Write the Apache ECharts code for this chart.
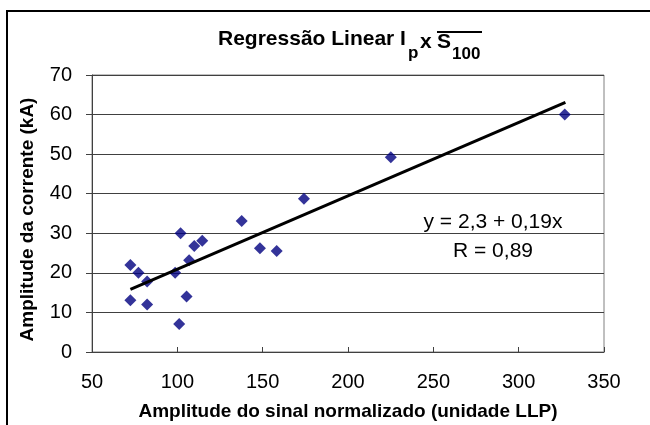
<!DOCTYPE html>
<html>
<head>
<meta charset="utf-8">
<script src="https://cdn.jsdelivr.net/npm/echarts@6/dist/echarts.min.js"></script>
<style>html,body{margin:0;padding:0;background:#fff}#c{width:650px;height:425px}</style>
</head>
<body>
<div id="c"></div>
<script>
// Data
const sinalX = [72.5, 77.2, 82.3, 72.5, 82.3, 98.7, 101.9, 101.1, 105.4, 106.9, 109.9, 114.6, 137.7, 148.4, 158.2, 174.2, 225.1, 327.0];
const correnteY = [22.0, 20.0, 17.8, 13.1, 12.0, 20.0, 30.0, 7.1, 14.0, 23.2, 26.8, 28.1, 33.1, 26.2, 25.5, 38.7, 49.2, 60.0];
// regression line end points as drawn in the reference
const trendX = [72.5, 327.4];
const trendY = [15.8, 63.1];
const xTicks = [50, 100, 150, 200, 250, 300, 350];
const yTicks = [0, 10, 20, 30, 40, 50, 60, 70];
const eqLines = ['y = 2,3 + 0,19x', 'R = 0,89'];
const titleParts = ['Regressão Linear I', 'p', 'x', 'S', '100'];

const FONT = "'Liberation Sans', Arial, sans-serif";
const chart = echarts.init(document.getElementById('c'), null, {renderer: 'canvas'});
function tText(txt, x, y, size) {
  return {type: 'text', x: x, y: y, z: 100,
          style: {text: txt, align: 'left', verticalAlign: 'middle', fontSize: size, fontWeight: 'bold', fontFamily: FONT, fill: '#000'}};
}
chart.setOption({
  animation: false,
  backgroundColor: '#fff',
  textStyle: {fontFamily: FONT},
  grid: {left: 92, top: 75, right: 46, bottom: 73, containLabel: false, outerBoundsMode: 'none',
         show: true, borderColor: '#808080', borderWidth: 1, backgroundColor: '#fff'},
  xAxis: {
    type: 'value', min: xTicks[0], max: xTicks[xTicks.length - 1], interval: 50,
    axisLine: {show: true, lineStyle: {color: '#404040', width: 1}},
    axisTick: {show: true, inside: true, length: 5, lineStyle: {color: '#404040'}},
    axisLabel: {color: '#000', fontSize: 20, fontFamily: FONT, margin: 20},
    splitLine: {show: false},
    name: 'Amplitude do sinal normalizado (unidade LLP)',
    nameLocation: 'middle', nameGap: 50,
    nameTextStyle: {color: '#000', fontSize: 19, fontWeight: 'bold', fontFamily: FONT}
  },
  yAxis: {
    type: 'value', min: yTicks[0], max: yTicks[yTicks.length - 1], interval: 10,
    axisLine: {show: true, lineStyle: {color: '#404040', width: 1}},
    axisTick: {show: true, inside: false, length: 6, lineStyle: {color: '#404040'}},
    axisLabel: {color: '#000', fontSize: 20, fontFamily: FONT, margin: 20},
    splitLine: {show: true, lineStyle: {color: '#404040', width: 1}},
    name: 'Amplitude da corrente (kA)',
    nameLocation: 'middle', nameGap: 55,
    nameTextStyle: {color: '#000', fontSize: 19, fontWeight: 'bold', fontFamily: FONT, padding: [0, 12, 0, 0]}
  },
  series: [
    {
      type: 'scatter', symbol: 'diamond', symbolSize: 12,
      itemStyle: {color: '#000080'},
      data: sinalX.map((x, i) => [x, correnteY[i]]),
      z: 3
    },
    {
      type: 'line', symbol: 'none', silent: true,
      lineStyle: {color: '#000', width: 3},
      data: trendX.map((x, i) => [x, trendY[i]]),
      z: 4
    }
  ],
  graphic: [
    {type: 'rect', shape: {x: 7, y: 11, width: 700, height: 500}, style: {fill: null, stroke: '#000', lineWidth: 2}, z: 100},
    tText(titleParts[0], 218, 39.5, 21),
    tText(titleParts[1], 408, 53, 17),
    tText(titleParts[2], 420, 42.5, 21),
    tText(titleParts[3], 437, 42.5, 21),
    tText(titleParts[4], 452, 54, 17),
    {type: 'line', shape: {x1: 437, y1: 32, x2: 482, y2: 32}, style: {stroke: '#000', lineWidth: 2}, z: 100},
    {type: 'text', x: 493, y: 222, z: 100,
     style: {text: eqLines[0], align: 'center', verticalAlign: 'middle', fontSize: 21, fontFamily: FONT, fill: '#000'}},
    {type: 'text', x: 493, y: 251, z: 100,
     style: {text: eqLines[1], align: 'center', verticalAlign: 'middle', fontSize: 21, fontFamily: FONT, fill: '#000'}}
  ]
});
</script>
</body>
</html>
